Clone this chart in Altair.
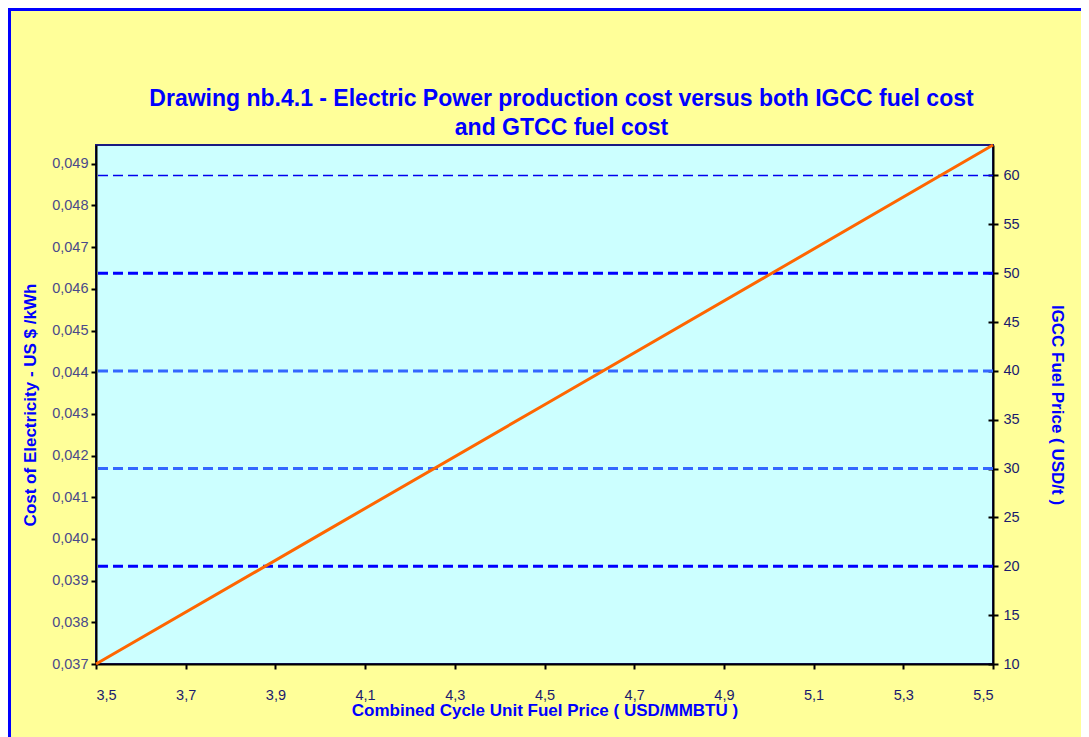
import altair as alt
import pandas as pd

# ---- data ----
gtcc_price = [3.5, 4.0, 4.5, 5.0, 5.5]                     # USD/MMBTU
electricity_cost = [0.0370, 0.04011, 0.04322, 0.04633, 0.04945]  # US$/kWh
igcc_levels = [20, 30, 40, 50, 60]                        # USD/t reference lines

x_ticks = [3.5, 3.7, 3.9, 4.1, 4.3, 4.5, 4.7, 4.9, 5.1, 5.3, 5.5]
cost_ticks = [0.037, 0.038, 0.039, 0.040, 0.041, 0.042, 0.043,
              0.044, 0.045, 0.046, 0.047, 0.048, 0.049]
igcc_ticks = [10, 15, 20, 25, 30, 35, 40, 45, 50, 55, 60]

title_lines = ["Drawing nb.4.1 - Electric Power production cost versus both IGCC fuel cost",
               "and GTCC fuel cost"]

# styles of the thick dashed levels (20, 30, 40, 50)
thick_domain = ["20", "30", "40", "50"]
thick_colors = ["#0000FF", "#3366FF", "#3366FF", "#0000FF"]

line_df = pd.DataFrame({"gtcc": gtcc_price, "cost": electricity_cost})
lvl_df = pd.DataFrame({"igcc": igcc_levels, "lvl": [str(v) for v in igcc_levels]})

FONT = "Liberation Sans"
BLUE = "#0000FF"

x_enc = alt.X(
    "gtcc:Q",
    scale=alt.Scale(domain=[3.5, 5.5], nice=False, zero=False),
    axis=alt.Axis(
        values=x_ticks,
        labelExpr="replace(format(datum.value, '.1f'), '.', ',')",
        title="Combined Cycle Unit Fuel Price ( USD/MMBTU )",
        titleFont=FONT, titleFontSize=17, titleFontWeight="bold", titleColor=BLUE,
        titlePadding=1,
        labelFont=FONT, labelFontSize=14.5, labelColor="#1A1A6E", labelPadding=19,
        tickColor="black", tickWidth=2, tickSize=5,
        domainColor="black", domainWidth=2, grid=False,
    ),
)

cost_line = alt.Chart(line_df).mark_line(color="#FF6600", strokeWidth=3).encode(
    x=x_enc,
    y=alt.Y(
        "cost:Q",
        scale=alt.Scale(domain=[0.037, 0.04945], nice=False, zero=False),
        axis=alt.Axis(
            orient="left",
            values=cost_ticks,
            labelExpr="replace(format(datum.value, '.3f'), '.', ',')",
            title="Cost of Electricity - US $ /kWh",
            titleFont=FONT, titleFontSize=17, titleFontWeight="bold", titleColor=BLUE,
            titlePadding=12,
            labelFont=FONT, labelFontSize=14.5, labelColor="#4A4A8A", labelPadding=3,
            tickColor="black", tickWidth=2, tickSize=5,
            domainColor="black", domainWidth=2, grid=False,
        ),
    ),
)

igcc_scale = alt.Scale(domain=[10, 63.12], nice=False, zero=False)

right_axis = alt.Axis(
    orient="right",
    values=igcc_ticks,
    title="IGCC Fuel Price ( USD/t )",
    titleFont=FONT, titleFontSize=17, titleFontWeight="bold", titleColor=BLUE,
    titlePadding=28,
    labelFont=FONT, labelFontSize=14.5, labelColor="#1A1A6E", labelPadding=5,
    tickColor="black", tickWidth=2, tickSize=5,
    domainColor="black", domainWidth=2, grid=False,
)

thick_rules = alt.Chart(lvl_df).transform_filter(
    "datum.igcc < 60"
).mark_rule(strokeDash=[10, 5], strokeWidth=3).encode(
    y=alt.Y("igcc:Q", scale=igcc_scale, axis=right_axis),
    color=alt.Color("lvl:N", scale=alt.Scale(domain=thick_domain, range=thick_colors), legend=None),
)

thin_rule = alt.Chart(lvl_df).transform_filter(
    "datum.igcc >= 60"
).mark_rule(strokeDash=[10, 5], strokeWidth=1.4, color="#0000EE").encode(
    y=alt.Y("igcc:Q", scale=igcc_scale, axis=right_axis),
)

levels = alt.layer(thick_rules, thin_rule)

# inner half of the cross ticks on the right axis
inner_ticks = alt.Chart(lvl_df).mark_rule(opacity=0).encode(
    y=alt.Y(
        "igcc:Q",
        scale=igcc_scale,
        axis=alt.Axis(
            orient="right", offset=-5, values=igcc_ticks, labels=False, domain=False,
            title=None, tickColor="black", tickWidth=2, tickSize=5, grid=False,
        ),
    ),
)

# outer blue frame of the chart area (decoration)
frame = alt.Chart(lvl_df).mark_rect(fill=None, stroke=BLUE, strokeWidth=4).encode(
    x=alt.value(-87), x2=alt.value(1200), y=alt.value(-136), y2=alt.value(900)
)

chart = alt.layer(levels, inner_ticks, cost_line, frame).resolve_scale(
    y="independent"
).properties(
    width=897,
    height=519,
    autosize=alt.AutoSizeParams(type="none"),
    padding={"left": 88, "top": 137, "right": 88, "bottom": 73},
    background="#FFFF99",
    title=alt.TitleParams(
        title_lines, font=FONT, fontSize=23, fontWeight="bold", color=BLUE,
        anchor="middle", frame="group", dx=17, offset=-133, lineHeight=29,
    ),
).configure_view(
    fill="#CCFFFF", stroke="#1A1A80", strokeWidth=2
)

chart.save("out.html", embed_options={"renderer": "svg", "actions": False})
